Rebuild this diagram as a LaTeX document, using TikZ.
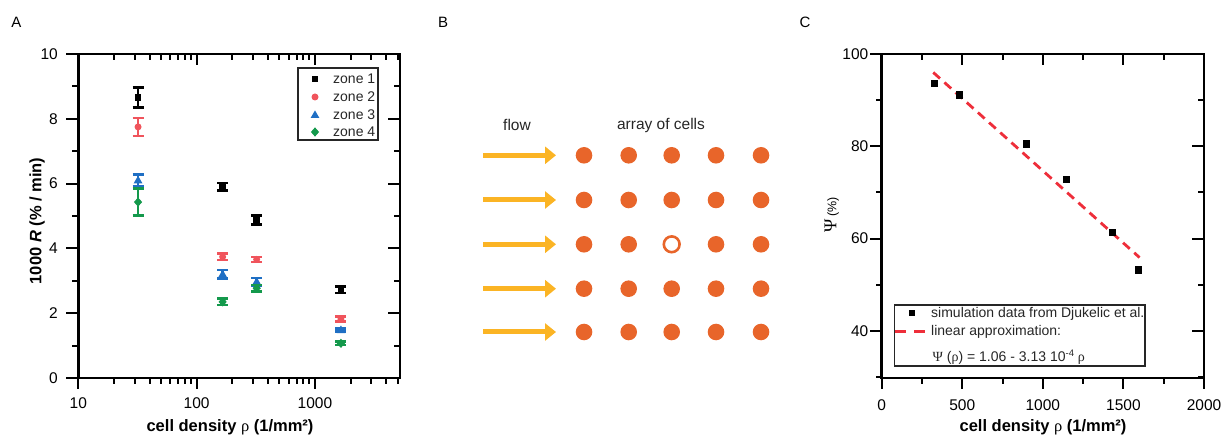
\documentclass[tikz,border=0pt]{standalone}
\usepackage{fontspec}
\setmainfont{Liberation Sans}
\newfontfamily\serif{Liberation Serif}
\usetikzlibrary{arrows.meta}
\definecolor{zred}{HTML}{F0545C}
\definecolor{zblue}{HTML}{1F6FC4}
\definecolor{zgreen}{HTML}{14994C}
\definecolor{cellorange}{HTML}{E8652A}
\definecolor{flowyellow}{HTML}{FBB424}
\definecolor{fitred}{HTML}{EE2E3A}
\newcommand\mksq{\fill (-3.3,-3.3) rectangle (3.3,3.3);}
\newcommand\mkci{\fill (0,0) circle (3.5);}
\newcommand\mktr{\fill (0,-4.6) -- (-4.4,3) -- (4.4,3) -- cycle;}
\newcommand\mkdi{\fill (0,-4.6) -- (4.1,0) -- (0,4.6) -- (-4.1,0) -- cycle;}
\newcommand\ebar[5]{%
  \begin{scope}[shift={({ax(#1)},{ay(#2)})}, color=#4]
    \pgfmathsetmacro\eh{32.4*#3}
    \draw[line width=2.6pt] (0,-\eh) -- (0,\eh);
    \draw[line width=2.6pt] (-5.5,-\eh) -- (5.5,-\eh) (-5.5,\eh) -- (5.5,\eh);
    #5
  \end{scope}}
\begin{document}
\begin{tikzpicture}[x=1pt,y=-1pt,
  declare function={ax(\r)=78.3+118.3*(log10(\r)-1); ay(\v)=378-32.4*\v;
                    cx(\r)=881.7+0.16115*\r; cy(\v)=54+4.6154*(100-\v);},
  frame/.style={line width=2.5pt},
  tickline/.style={line width=2pt},
  ticklab/.style={font=\fontsize{15.5}{17}\selectfont, inner sep=0pt},
  axlab/.style={font=\bfseries\fontsize{16.5}{18}\selectfont, inner sep=0pt},
  panellab/.style={font=\fontsize{15}{17}\selectfont, inner sep=0pt},
  legtext/.style={font=\fontsize{14}{16}\selectfont, inner sep=0pt, anchor=west, text=black!85},
  legbox/.style={line width=1.4pt, draw=black!85},
  flowarrow/.style={line width=5pt, draw=flowyellow, -{Triangle[length=11pt,width=17pt]}},
  cell/.style={circle, fill=cellorange, minimum size=16.6pt, inner sep=0pt},
  hollowcell/.style={circle, draw=cellorange, line width=2.6pt, fill=white, minimum size=15.8pt, inner sep=0pt},
  btext/.style={font=\fontsize{15.5}{17}\selectfont, inner sep=0pt, text=black!85},
]
\useasboundingbox (0,0) rectangle (1223,435);

% ---------------- Panel A ----------------
\node[panellab] (labA) at (16.5,22) {A};
% ticks
\foreach \r in {20,30,40,50,60,70,80,90,200,300,400,500,600,700,800,900,2000,3000,4000,5000} {
  \draw[tickline] ({ax(\r)},378) -- ++(0,6);
  \draw[tickline] ({ax(\r)},54) -- ++(0,6);
}
\foreach \r in {10,100,1000} {
  \draw[tickline] ({ax(\r)},378) -- ++(0,11);
  \draw[tickline] ({ax(\r)},54) -- ++(0,11);
}
\foreach \v in {1,3,5,7,9} {
  \draw[tickline] (78.3,{ay(\v)}) -- ++(-6,0);
  \draw[tickline] (400,{ay(\v)}) -- ++(-6,0);
}
\foreach \v in {0,2,4,6,8,10} {
  \draw[tickline] (78.3,{ay(\v)}) -- ++(-12,0);
  \draw[tickline] (400,{ay(\v)}) -- ++(-12,0);
  \node[ticklab, anchor=east] (ay\v) at (58,{ay(\v)}) {\v};
}
\foreach \r in {10,100,1000} {
  \node[ticklab] (ax\r) at ({ax(\r)},403) {\r};
}
\draw[frame] (78.3,54) rectangle (400,378);
\node[axlab] (xlabA) at (230,427) {cell density {\serif\mdseries ρ} (1/mm²)};
\node[axlab, rotate=90] (ylabA) at (37,221) {1000 \textit{R} (\% / min)};
% data
\ebar{32}{8.65}{0.31}{black}{\mksq}
\ebar{166}{5.9}{0.12}{black}{\mksq}
\ebar{322}{4.88}{0.14}{black}{\mksq}
\ebar{1660}{2.72}{0.1}{black}{\mksq}
\ebar{32}{7.75}{0.28}{zred}{\mkci}
\ebar{166}{3.74}{0.1}{zred}{\mkci}
\ebar{322}{3.66}{0.08}{zred}{\mkci}
\ebar{1660}{1.82}{0.08}{zred}{\mkci}
\ebar{32}{6.1}{0.18}{zblue}{\mktr}
\ebar{166}{3.2}{0.13}{zblue}{\mktr}
\ebar{322}{2.97}{0.12}{zblue}{\mktr}
\ebar{1660}{1.48}{0.04}{zblue}{\mktr}
\ebar{32}{5.43}{0.41}{zgreen}{\mkdi}
\ebar{166}{2.35}{0.1}{zgreen}{\mkdi}
\ebar{322}{2.77}{0.1}{zgreen}{\mkdi}
\ebar{1660}{1.07}{0.05}{zgreen}{\mkdi}
% legend
\draw[legbox] (298,68) rectangle (378,140);
\begin{scope}[shift={(315,79)}]\mksq\end{scope}
\begin{scope}[shift={(315,97)}, color=zred]\mkci\end{scope}
\begin{scope}[shift={(315,115)}, color=zblue]\mktr\end{scope}
\begin{scope}[shift={(315,132)}, color=zgreen]\mkdi\end{scope}
\node[legtext] (lz1) at (333,79) {zone 1};
\node[legtext] (lz2) at (333,97) {zone 2};
\node[legtext] (lz3) at (333,115) {zone 3};
\node[legtext] (lz4) at (333,132) {zone 4};

% ---------------- Panel B ----------------
\node[panellab] (labB) at (443,22) {B};
\node[btext] (flow) at (517,125) {flow};
\node[btext] (array) at (661,125) {array of cells};
\foreach \y [count=\i] in {155.3,200,244.3,288.7,332} {
  \coordinate (fs\i) at (483.3,\y);
  \coordinate (fe\i) at (556,\y);
  \draw[flowarrow] (fs\i) -- (fe\i);
  \foreach \x [count=\j] in {584,628.7,671.7,716,761} {
    \ifnum\i\j=33 \node[hollowcell] (c\i\j) at (\x,\y) {};
    \else \node[cell] (c\i\j) at (\x,\y) {};
    \fi
  }
}

% ---------------- Panel C ----------------
\node[panellab] (labC) at (805,22) {C};
\foreach \r in {250,750,1250,1750} {
  \draw[tickline] ({cx(\r)},378) -- ++(0,6);
  \draw[tickline] ({cx(\r)},54) -- ++(0,6);
}
\foreach \r in {0,500,1000,1500,2000} {
  \draw[tickline] ({cx(\r)},378) -- ++(0,11);
  \draw[tickline] ({cx(\r)},54) -- ++(0,11);
  \node[ticklab] (cx\r) at ({cx(\r)},405) {\r};
}
\foreach \v in {30,50,70,90} {
  \draw[tickline] (881.7,{cy(\v)}) -- ++(-6,0);
  \draw[tickline] (1204,{cy(\v)}) -- ++(-6,0);
}
\foreach \v in {40,60,80,100} {
  \draw[tickline] (881.7,{cy(\v)}) -- ++(-12,0);
  \draw[tickline] (1204,{cy(\v)}) -- ++(-12,0);
  \node[ticklab, anchor=east] (cy\v) at (868.5,{cy(\v)}) {\v};
}
\draw[frame] (881.7,54) rectangle (1204,378);
\node[axlab] (xlabC) at (1043,427) {cell density {\serif\mdseries ρ} (1/mm²)};
\node[rotate=90, inner sep=0pt] (ylabC) at (831.7,215) {{\serif\fontsize{18}{19}\selectfont Ψ} {\fontsize{12.5}{14}\selectfont (\%)}};
% fit line
\coordinate (fitA) at ({cx(320)},{cy(96.0)});
\coordinate (fitB) at ({cx(1600)},{cy(55.9)});
\draw[fitred, line width=2.8pt, dash pattern=on 9pt off 6pt] (fitA) -- (fitB);
% data
\foreach \r/\v in {326/93.65, 485/91.1, 898/80.5, 1149/72.85, 1434/61.3, 1593/53.2} {
  \fill ({cx(\r)-3.6},{cy(\v)-3.6}) rectangle ({cx(\r)+3.6},{cy(\v)+3.6});
}
% legend
\draw[legbox] (894.3,305) rectangle (1145,366);
\fill (908.5,310.1) rectangle (914.9,316.5);
\coordinate (ldA) at (895,331.7);
\coordinate (ldB) at (926,331.7);
\draw[fitred, line width=2.8pt, dash pattern=on 11pt off 8pt] (ldA) -- (ldB);
\node[legtext] (lc1) at (931,314) {simulation data from Djukelic et al.};
\node[legtext] (lc2) at (931,332) {linear approximation:};
\node[legtext] (lc3) at (932.5,357) {{\serif Ψ} ({\serif ρ}) = 1.06 - 3.13 10\raisebox{0.75ex}{\fontsize{9.5}{10}\selectfont -4} {\serif ρ}};
\end{tikzpicture}
\end{document}
